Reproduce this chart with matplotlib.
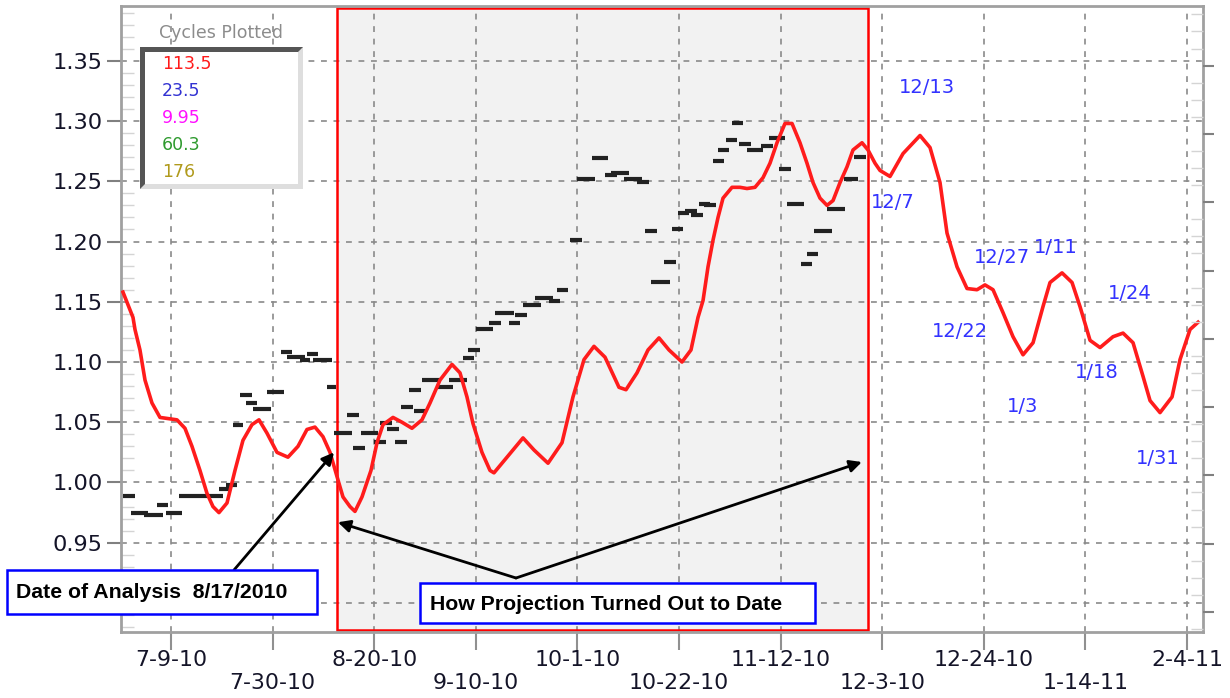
import matplotlib
matplotlib.use("Agg")
import matplotlib.pyplot as plt
import numpy as np
import pandas as pd
from matplotlib.patches import Rectangle, Polygon
from matplotlib.ticker import MultipleLocator

# ---------------- data ----------------
base_date = "2010-07-09"
x_tick_labels = ["7-9-10", "7-30-10", "8-20-10", "9-10-10", "10-1-10", "10-22-10",
                 "11-12-10", "12-3-10", "12-24-10", "1-14-11", "2-4-11"]
y_ticks = [0.95, 1.00, 1.05, 1.10, 1.15, 1.20, 1.25, 1.30, 1.35]

# projection curve: days after 7-9-10, value
proj_days = [-9.92, -7.85, -7.44, -6.41, -5.37, -3.93, -2.27, 1.24, 2.89, 4.34, 5.99, 7.44, 8.68,
             9.92, 11.58, 13.23, 14.88, 16.74, 18.19, 19.84, 21.91, 24.18, 26.25, 28.11, 29.76,
             31.42, 32.87, 34.31, 35.55, 37.0, 38.03, 39.48, 41.34, 42.58, 43.82, 45.89, 47.75,
             49.81, 51.88, 53.54, 55.60, 58.08, 59.74, 61.18, 62.42, 64.28, 65.94, 66.76, 69.04,
             72.76, 75.03, 77.93, 80.82, 83.09, 85.37, 87.43, 89.71, 92.60, 94.05, 96.32, 98.60,
             100.87, 102.94, 105.62, 107.48, 108.93, 109.97, 111.0, 112.03, 113.07, 114.1, 115.96,
             117.61, 119.06, 120.71, 122.37, 123.81, 125.26, 126.91, 128.36, 130.01, 131.46, 132.7,
             134.15, 135.6, 136.84, 138.29, 139.73, 140.97, 142.83, 144.07, 145.52, 146.55, 148.62,
             151.31, 154.82, 156.89, 158.95, 160.40, 162.47, 164.53, 166.6, 168.25, 169.91, 171.97,
             174.04, 176.11, 178.18, 180.24, 181.69, 184.17, 186.24, 187.89, 189.96, 192.03, 194.71,
             196.78, 198.85, 200.92, 202.36, 204.43, 206.91, 208.56, 210.63, 212.29]
proj_vals = [1.158, 1.137, 1.127, 1.110, 1.085, 1.066, 1.054, 1.052, 1.045, 1.030, 1.010, 0.991, 0.980,
             0.975, 0.983, 1.010, 1.035, 1.048, 1.052, 1.041, 1.025, 1.021, 1.030, 1.044, 1.046,
             1.038, 1.025, 1.005, 0.988, 0.980, 0.976, 0.988, 1.010, 1.033, 1.048, 1.054, 1.050,
             1.045, 1.052, 1.066, 1.085, 1.098, 1.091, 1.071, 1.049, 1.025, 1.010, 1.008, 1.019,
             1.037, 1.027, 1.016, 1.033, 1.071, 1.102, 1.113, 1.104, 1.079, 1.077, 1.091, 1.110,
             1.120, 1.110, 1.100, 1.110, 1.137, 1.151, 1.179, 1.201, 1.220, 1.236, 1.245,
             1.245, 1.244, 1.245, 1.253, 1.265, 1.282, 1.298, 1.298, 1.282, 1.265, 1.249,
             1.236, 1.230, 1.234, 1.249, 1.262, 1.276, 1.282, 1.276, 1.265, 1.259, 1.254,
             1.273, 1.288, 1.278, 1.249, 1.207, 1.179, 1.161, 1.160, 1.164, 1.160, 1.141,
             1.121, 1.106, 1.116, 1.146, 1.166, 1.174, 1.166, 1.146, 1.118, 1.112, 1.121,
             1.124, 1.116, 1.088, 1.068, 1.058, 1.071, 1.102, 1.127, 1.133]

# actual price bars: start day, end day, value
bar_start = [-9.9, -8.3, -5.6, -2.9, -1.0, 1.7, 4.8, 7.9, 9.9, 11.4, 12.8, 14.3, 15.5, 16.9, 19.8,
             22.7, 24.0, 26.7, 28.1, 29.4, 32.2, 33.7, 36.4, 37.6, 39.3, 42.0, 43.2, 44.6, 46.3,
             47.5, 49.2, 50.2, 51.9, 54.8, 57.5, 60.4, 61.4, 63.0, 65.7, 67.0, 69.9, 71.1, 72.8,
             75.2, 78.1, 79.8, 82.5, 83.9, 87.0, 89.7, 90.9, 93.6, 96.3, 98.0, 99.2, 101.9, 103.6,
             104.8, 106.2, 107.5, 109.1, 110.2, 112.0, 113.1, 114.7, 116.0, 117.4, 119.1, 122.0,
             123.6, 125.7, 127.3, 130.2, 131.5, 132.9, 135.6, 139.1, 141.2]
bar_end = [-7.4, -4.8, -1.7, -0.6, 2.3, 4.8, 7.9, 10.7, 12.2, 13.6, 14.9, 16.7, 17.8, 20.7, 23.4,
           25.0, 27.7, 28.7, 30.4, 33.3, 34.1, 37.4, 38.9, 40.1, 42.8, 44.4, 45.7, 47.1, 48.8,
           50.0, 51.7, 52.7, 55.6, 58.3, 61.2, 62.6, 63.9, 66.6, 68.2, 70.9, 72.1, 73.6, 76.5,
           79.0, 80.4, 82.1, 85.0, 87.6, 90.3, 92.2, 94.7, 97.4, 98.8, 100.5, 103.1, 104.4, 105.8,
           107.1, 108.7, 110.0, 111.4, 112.6, 114.3, 115.3, 117.0, 118.2, 119.9, 122.4, 124.4,
           126.9, 128.2, 130.8, 132.5, 133.8, 136.6, 139.3, 142.0, 143.7]
bar_val = [0.989, 0.975, 0.973, 0.981, 0.975, 0.989, 0.989, 0.989, 0.995, 0.998, 1.048, 1.073, 1.066,
           1.061, 1.075, 1.108, 1.104, 1.102, 1.107, 1.102, 1.079, 1.041, 1.056, 1.029, 1.041,
           1.034, 1.049, 1.044, 1.034, 1.063, 1.077, 1.059, 1.085, 1.079, 1.085, 1.103, 1.110,
           1.127, 1.132, 1.141, 1.132, 1.139, 1.147, 1.153, 1.151, 1.160, 1.201, 1.252, 1.269,
           1.255, 1.257, 1.252, 1.249, 1.209, 1.166, 1.183, 1.210, 1.224, 1.225, 1.222, 1.231,
           1.230, 1.267, 1.276, 1.284, 1.298, 1.281, 1.276, 1.279, 1.286, 1.260, 1.231, 1.181,
           1.190, 1.209, 1.227, 1.252, 1.270]

# shaded "how it turned out" window (days)
window_start = 34.3
window_end = 144.1

# turning-point date labels: text, day, value
tp_labels = ["12/13", "12/7", "12/27", "1/11", "1/24", "12/22", "1/18", "1/3", "1/31"]
tp_days = [156.3, 149.2, 171.8, 182.9, 198.2, 163.1, 191.4, 176.1, 204.0]
tp_vals = [1.328, 1.232, 1.187, 1.195, 1.157, 1.125, 1.091, 1.063, 1.020]

legend_title = "Cycles Plotted"
cycles = ["113.5", "23.5", "9.95", "60.3", "176"]
cycle_colors = ["#ff1a1a", "#3232d2", "#ff10ff", "#2e9a2e", "#b09a1c"]

analysis_text = "Date of Analysis  8/17/2010"
outcome_text = "How Projection Turned Out to Date"
arrow1_target = (33.7, 1.025)
arrow2_target = (34.5, 0.967)
arrow3_target = (142.8, 1.017)

# ---------------- figure ----------------
W, H = 1230, 698
fig = plt.figure(figsize=(W / 100, H / 100), dpi=100)
ax = fig.add_axes([121 / W, 66 / H, 1082 / W, 626 / H])

b0 = pd.Timestamp(base_date)
x_tick_pos = [(pd.to_datetime(s, format="%m-%d-%y") - b0).days for s in x_tick_labels]

ax.set_xlim(-10.33, 213.31)
ax.set_ylim(0.8759, 1.3955)

# shaded window
ax.axvspan(window_start, window_end, ymin=0.003, ymax=0.997, facecolor="#f2f2f2",
           edgecolor="none", zorder=0.1)

grid_kw = dict(color="#8a8a8a", lw=1.2, ls=(0, (3.5, 4)))
ax.grid(True, **grid_kw)
ax.set_axisbelow(True)
ax.axhline(0.90, zorder=0.5, **grid_kw)

ax.axvspan(window_start, window_end, ymin=0.003, ymax=0.997, facecolor="none",
           edgecolor="#ff0000", lw=1.8, zorder=2.5)

ax.hlines(bar_val, bar_start, bar_end, colors="#222222", lw=3.0, zorder=3)
ax.plot(proj_days, proj_vals, color="#ff1c1c", lw=2.6, zorder=4, solid_joinstyle="round")

for t, d, v in zip(tp_labels, tp_days, tp_vals):
    ax.text(d, v, t, ha="center", va="center", color="#3333ff", fontsize=14, zorder=5)

# axes styling
ax.set_yticks(y_ticks)
ax.set_yticklabels([f"{v:.2f}" for v in y_ticks])
ax.yaxis.set_minor_locator(MultipleLocator(0.01))
ax.tick_params(axis="y", which="major", direction="out", length=10, width=1.5,
               color="#808080", labelsize=16.2, labelcolor="#141428", pad=3)
ax.tick_params(axis="y", which="minor", direction="in", length=9, width=1,
               color="#d4d4d4")
ax.set_xticks(x_tick_pos)
ax.set_xticklabels([s if i % 2 == 0 else "\n" + s for i, s in enumerate(x_tick_labels)])
ax.tick_params(axis="x", which="major", direction="out", length=13, width=1.5,
               color="#909090", labelsize=15.8, labelcolor="#141428", pad=0)
for lab in ax.get_xticklabels():
    lab.set_linespacing(1.18)
for s in ax.spines.values():
    s.set_color("#a0a0a0")
    s.set_linewidth(2)

ax2 = ax.twinx()
ax2.set_ylim(-0.293, 8.873)
ax2.set_yticks(range(9))
ax2.set_yticklabels([])
ax2.yaxis.set_minor_locator(MultipleLocator(0.25))
ax2.tick_params(axis="y", which="major", direction="out", length=8, width=1.5, color="#808080")
ax2.tick_params(axis="y", which="minor", direction="in", length=9, width=1, color="#d4d4d4")
for s in ax2.spines.values():
    s.set_visible(False)

# ---------------- legend box (figure pixels, top-left origin) ----------------
def fx(px):
    return px / W

def fy(py):
    return 1 - py / H

L, T, R, B, bw = 140, 47, 303, 189, 5
fig.patches.append(Rectangle((fx(L), fy(B)), fx(R) - fx(L), fy(T) - fy(B),
                             transform=fig.transFigure, facecolor="#dedede", edgecolor="none"))
fig.patches.append(Polygon([(fx(L), fy(B)), (fx(L), fy(T)), (fx(R), fy(T)), (fx(R - bw), fy(T + bw)),
                            (fx(L + bw), fy(T + bw)), (fx(L + bw), fy(B - bw))],
                           closed=True, transform=fig.transFigure, facecolor="#555555",
                           edgecolor="none"))
fig.patches.append(Rectangle((fx(L + bw), fy(B - bw)), fx(R - bw) - fx(L + bw),
                             fy(T + bw) - fy(B - bw), transform=fig.transFigure,
                             facecolor="white", edgecolor="none"))
fig.text(fx(221), fy(33), legend_title, ha="center", va="center", color="#8c8c8c", fontsize=12.5)
for i, (c, col) in enumerate(zip(cycles, cycle_colors)):
    fig.text(fx(162), fy(64 + i * 27), c, ha="left", va="center", color=col, fontsize=12.5)

# ---------------- annotation boxes ----------------
def box(l, t, r, b):
    fig.patches.append(Rectangle((fx(l), fy(b)), fx(r) - fx(l), fy(t) - fy(b),
                                 transform=fig.transFigure, facecolor="white",
                                 edgecolor="#0000ff", lw=1.8))

box(7, 570, 317, 614)
fig.text(fx(16), fy(592), analysis_text, ha="left", va="center", fontsize=15.3,
         fontweight="bold", family="Liberation Sans", color="black")
box(420, 583, 815, 623)
fig.text(fx(430), fy(604), outcome_text, ha="left", va="center", fontsize=15.3,
         fontweight="bold", family="Liberation Sans", color="black")

arrow_kw = dict(arrowstyle="-|>", color="black", lw=2, mutation_scale=18, shrinkA=0, shrinkB=0)
ax.annotate("", xy=arrow1_target, xycoords="data", xytext=(234, H - 570),
            textcoords="figure pixels", arrowprops=arrow_kw, zorder=6)
ax.annotate("", xy=arrow2_target, xycoords="data", xytext=(516, H - 578),
            textcoords="figure pixels", arrowprops=arrow_kw, zorder=6)
ax.annotate("", xy=arrow3_target, xycoords="data", xytext=(516, H - 578),
            textcoords="figure pixels", arrowprops=arrow_kw, zorder=6)

fig.savefig("out.png", dpi=100)
